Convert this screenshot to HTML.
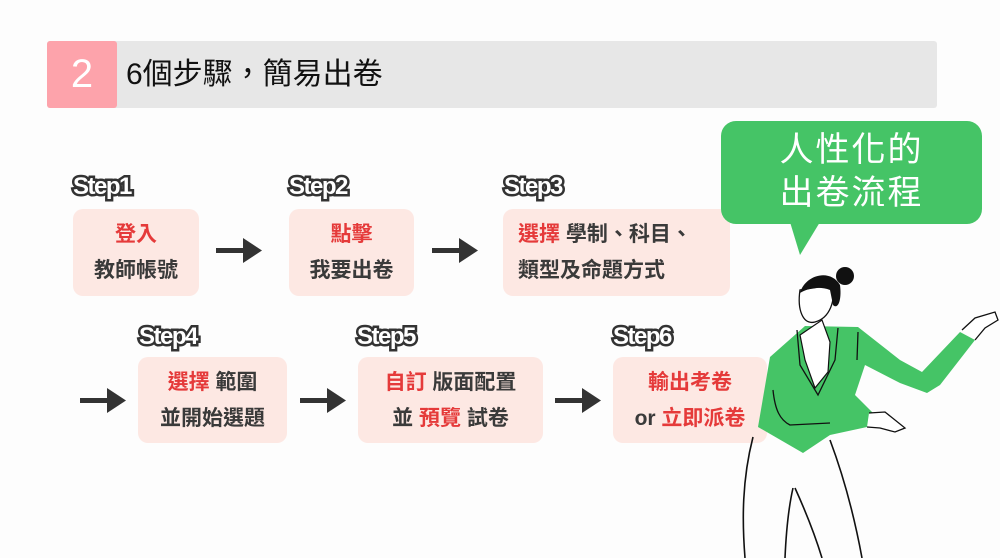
<!DOCTYPE html>
<html><head><meta charset="utf-8"><style>
*{margin:0;padding:0;box-sizing:border-box}
body{width:1000px;height:558px;background:#fdfdfd;position:relative;overflow:hidden;font-family:"Liberation Sans","Noto Sans CJK TC",sans-serif}
.bar{position:absolute;left:47px;top:41px;width:890px;height:67px;background:#e7e7e7;border-radius:3px}
.num{position:absolute;left:47px;top:41px;width:70px;height:67px;background:#fda3ab;border-radius:3px;color:#fff;font-size:40px;text-align:center;line-height:67px;font-weight:300}
.title{position:absolute;left:126px;top:41px;line-height:67px;font-size:30px;color:#111}
.box{position:absolute;background:#fde8e3;border-radius:10px;text-align:center;font-weight:bold;font-size:21px;color:#3a3a3a;line-height:36px;padding-top:8px}
.r{color:#e53a3a}
.step{position:absolute;font-weight:bold;font-size:24px;color:#fff;-webkit-text-stroke:5px #333;paint-order:stroke fill;letter-spacing:-1.5px}
.arr{position:absolute;width:46px;height:26px}
.bub{position:absolute;left:721px;top:121px;width:261px;height:103px;background:#45c466;border-radius:15px;color:#fff;font-size:34px;text-align:center;line-height:43px;padding-top:8px;letter-spacing:2px}
</style></head><body>
<div class="bar"></div><div class="num">2</div>
<div class="title">6個步驟，簡易出卷</div>

<div class="step" style="left:73px;top:173px">Step1</div>
<div class="step" style="left:289px;top:173px">Step2</div>
<div class="step" style="left:504px;top:173px">Step3</div>
<div class="step" style="left:139px;top:323px">Step4</div>
<div class="step" style="left:357px;top:323px">Step5</div>
<div class="step" style="left:613px;top:323px">Step6</div>

<div class="box" style="left:73px;top:209px;width:126px;height:87px"><span class="r">登入</span><br>教師帳號</div>
<div class="box" style="left:289px;top:209px;width:125px;height:87px"><span class="r">點擊</span><br>我要出卷</div>
<div class="box" style="left:503px;top:209px;width:227px;height:87px;text-align:left;padding-left:15px"><span class="r">選擇</span> 學制、科目、<br>類型及命題方式</div>
<div class="box" style="left:138px;top:357px;width:149px;height:86px"><span class="r">選擇</span> 範圍<br>並開始選題</div>
<div class="box" style="left:358px;top:357px;width:185px;height:86px"><span class="r">自訂</span> 版面配置<br>並 <span class="r">預覽</span> 試卷</div>
<div class="box" style="left:613px;top:357px;width:154px;height:86px"><span class="r">輸出考卷</span><br>or <span class="r">立即派卷</span></div>

<svg width="0" height="0" style="position:absolute"><defs><g id="a"><rect x="0" y="10" width="28" height="5" fill="#333"/><polygon points="27,0 46,12.5 27,25" fill="#333"/></g></defs></svg>
<svg class="arr" style="left:216px;top:238px"><use href="#a"/></svg>
<svg class="arr" style="left:432px;top:238px"><use href="#a"/></svg>
<svg class="arr" style="left:80px;top:388px"><use href="#a"/></svg>
<svg class="arr" style="left:300px;top:388px"><use href="#a"/></svg>
<svg class="arr" style="left:555px;top:388px"><use href="#a"/></svg>

<svg style="position:absolute;left:0;top:0" width="1000" height="558">
<polygon points="790,222 820,222 800,255" fill="#45c466"/>
<path d="M753,437 C742,480 742,520 745,558 M830,440 C845,480 855,520 862,558 M793,488 C788,510 786,535 785,558 M795,488 C805,510 815,535 822,558" stroke="#111" stroke-width="1.6" fill="none"/>
<path d="M770,357 L805,326 L858,327 L900,360 L922,372 L960,332 L975,340 L940,385 L927,393 L900,383 L865,365 L855,395 L873,413 L867,427 L830,435 L803,453 L758,427 Z" fill="#45c466"/>
<path d="M800,335 L822,320 L830,342 L828,372 L815,388 L805,360 Z" fill="#fff" stroke="#111" stroke-width="1.2"/>
<path d="M797,330 L800,365 L818,395 L835,360 L838,328" stroke="#111" stroke-width="1.3" fill="none"/>
<path d="M773,390 C775,410 780,420 790,425 L830,423 M858,332 L857,360" stroke="#111" stroke-width="1.3" fill="none"/>
<path d="M800,290 C797,310 803,325 815,322 C830,318 836,300 832,285 Z" fill="#fff" stroke="#111" stroke-width="1.3"/>
<path d="M800,293 C805,275 830,268 840,285 C842,300 838,310 833,305 L830,290 C820,286 808,288 800,293 Z" fill="#111"/>
<circle cx="845" cy="276" r="9" fill="#111"/>
<path d="M962,330 L975,318 L995,312 L998,320 L985,328 L975,340" stroke="#111" stroke-width="1.3" fill="#fff"/>
<path d="M869,413 L885,412 L905,428 L895,432 L880,428 L867,427" stroke="#111" stroke-width="1.3" fill="#fff"/>
</svg>

<div class="bub">人性化的<br>出卷流程</div>
</body></html>
